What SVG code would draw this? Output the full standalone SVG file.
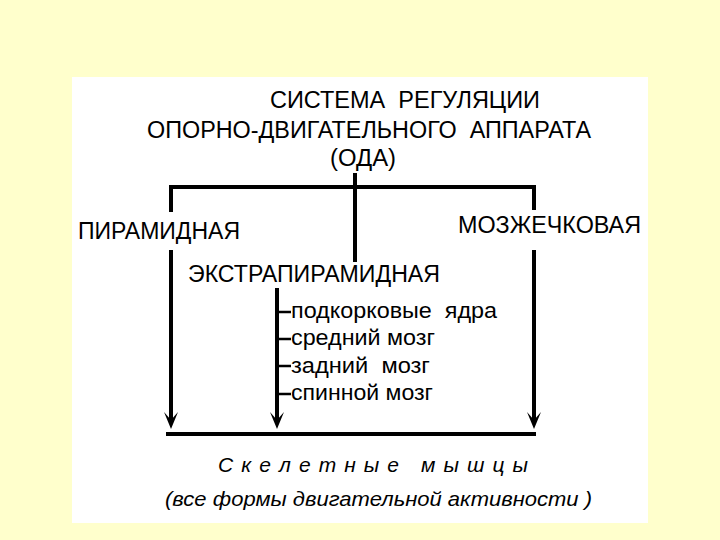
<svg xmlns="http://www.w3.org/2000/svg" xmlns:xlink="http://www.w3.org/1999/xlink" width="720" height="540" viewBox="0 0 720 540">
<style>
text{white-space:pre}
.t{font-family:"Liberation Sans",Arial,sans-serif;fill:#000;font-size:23px}
.s{font-family:"Liberation Sans",Arial,sans-serif;fill:#000;font-size:22px}
.i{font-family:"Liberation Sans",Arial,sans-serif;fill:#000;font-style:italic;font-size:21px}
.ln{stroke:#000;stroke-width:4;fill:none}
.tk{stroke:#000;stroke-width:2.5;fill:none}
</style>
<defs>
<path id="ah" d="M0,0 L-7,-17 L0,-9 L7,-17 Z" fill="#000"/>
</defs>
<rect x="0" y="0" width="720" height="540" fill="#FFFFCC"/>
<rect x="72" y="77" width="576" height="446" fill="#FFFFFF"/>
<g id="title">
<text class="t" x="270" y="108" textLength="270" lengthAdjust="spacingAndGlyphs" xml:space="preserve">СИСТЕМА  РЕГУЛЯЦИИ</text>
<text class="t" x="147" y="138" textLength="444" lengthAdjust="spacingAndGlyphs" xml:space="preserve">ОПОРНО-ДВИГАТЕЛЬНОГО  АППАРАТА</text>
<text class="t" x="330" y="166" textLength="66" lengthAdjust="spacingAndGlyphs">(ОДА)</text>
</g>
<g id="pyramidal"><text class="t" x="78" y="239" textLength="162" lengthAdjust="spacingAndGlyphs">ПИРАМИДНАЯ</text></g>
<g id="cerebellar"><text class="t" x="458" y="233" textLength="183" lengthAdjust="spacingAndGlyphs">МОЗЖЕЧКОВАЯ</text></g>
<g id="extrapyramidal"><text class="t" x="188" y="282" textLength="252" lengthAdjust="spacingAndGlyphs">ЭКСТРАПИРАМИДНАЯ</text></g>
<g id="items">
<text class="s" x="291" y="318" textLength="206" lengthAdjust="spacingAndGlyphs" xml:space="preserve">подкорковые  ядра</text>
<text class="s" x="291" y="345" textLength="144" lengthAdjust="spacingAndGlyphs">средний мозг</text>
<text class="s" x="291" y="373" textLength="139" lengthAdjust="spacingAndGlyphs" xml:space="preserve">задний  мозг</text>
<text class="s" x="291" y="400" textLength="142" lengthAdjust="spacingAndGlyphs">спинной мозг</text>
</g>
<g id="muscles">
<text class="i" x="218" y="472" textLength="310" lengthAdjust="spacing" xml:space="preserve">С к е л е т н ы е   м ы ш ц ы</text>
<text class="i" x="165" y="506" textLength="427" lengthAdjust="spacingAndGlyphs">(все формы двигательной активности )</text>
</g>
<g id="connectors">
<path class="ln" d="M355,173 V262"/>
<path class="ln" d="M169,187 H536"/>
<path class="ln" d="M171,187 V212"/>
<path class="ln" d="M534,187 V210"/>
<path class="ln" d="M171,250 V420"/>
<path class="ln" d="M534,250 V420"/>
<path class="ln" d="M277,288 V420"/>
<path class="ln" d="M166,434 H536"/>
<path class="tk" d="M277,312 H291 M277,339 H291 M277,366 H291 M277,394 H291"/>
<use xlink:href="#ah" x="171" y="429"/>
<use xlink:href="#ah" x="277" y="429"/>
<use xlink:href="#ah" x="534" y="429"/>
</g>
</svg>
